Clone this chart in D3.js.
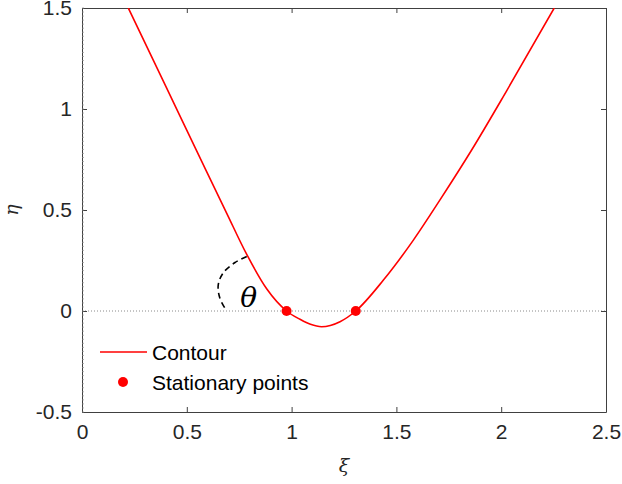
<!DOCTYPE html>
<html>
<head>
<meta charset="utf-8">
<script src="https://cdn.jsdelivr.net/npm/d3@7"></script>
<style>
	body { margin: 0; background: white; }
	svg { display: block; }
	.tick text { font-family: "Liberation Sans", Arial, sans-serif; }
</style>
</head>
<body>
<section></section>
<script>
//contour samples (xi, eta)
var contourXi  = [0.221, 0.400, 0.590, 0.690, 0.786, 0.881, 0.976, 1.040, 1.090, 1.143, 1.231, 1.306, 1.438, 1.581, 1.708, 1.859, 2.026, 2.253];
var contourEta = [1.500, 1.112, 0.700, 0.485, 0.280, 0.110, 0.000, -0.041, -0.066, -0.078, -0.053, 0.000, 0.153, 0.351, 0.550, 0.797, 1.090, 1.500];

//stationary points
var stationaryXi  = [0.976, 1.306];
var stationaryEta = [0, 0];

//dashed theta arc
var arcXi  = [0.786, 0.730, 0.674, 0.650, 0.658, 0.690];
var arcEta = [0.270, 0.240, 0.189, 0.129, 0.063, 0.000];

//ticks
var xTicks = [0, 0.5, 1, 1.5, 2, 2.5];
var yTicks = [-0.5, 0, 0.5, 1, 1.5];
var xTickLabels = ["0", "0.5", "1", "1.5", "2", "2.5"];
var yTickLabels = ["-0.5", "0", "0.5", "1", "1.5"];

var legendLabels = ["Contour", "Stationary points"];

//set size of viewport
var width = 622,
	height = 484;

var plotLeft = 82, plotRight = 606, plotTop = 8, plotBottom = 412;
var axisColor = "#404040";

var svg = d3.select('section')
	.append('svg')
	.attr('width', width)
	.attr('height', height);

var x = d3.scaleLinear().domain([0, 2.5]).range([plotLeft, plotRight]);
var y = d3.scaleLinear().domain([-0.5, 1.5]).range([plotBottom, plotTop]);

//dotted zero line
svg.append("line")
	.attr("x1", x(0)).attr("x2", x(2.5))
	.attr("y1", y(0)).attr("y2", y(0))
	.attr("stroke", "#8a8a8a")
	.attr("stroke-width", 1)
	.attr("stroke-dasharray", "1,2");

//axes (ticks pointing inward)
function styleAxis(g){
	g.select(".domain").attr("stroke", axisColor);
	g.selectAll(".tick line").attr("stroke", axisColor);
	g.selectAll(".tick text")
		.attr("fill", "#262626")
		.attr("font-size", "21px");
}

var xAxis = svg.append("g")
	.attr("transform", "translate(0," + plotBottom + ")")
	.call(d3.axisBottom(x).tickValues(xTicks).tickSizeInner(-5).tickSizeOuter(0).tickPadding(12)
		.tickFormat(function(d, i){ return xTickLabels[i]; }))
	.call(styleAxis);
xAxis.selectAll(".tick text").attr("dy", "0.71em");

svg.append("g")
	.attr("transform", "translate(" + plotLeft + ",0)")
	.call(d3.axisLeft(y).tickValues(yTicks).tickSizeInner(-5).tickSizeOuter(0).tickPadding(10)
		.tickFormat(function(d, i){ return yTickLabels[i]; }))
	.call(styleAxis);

//top and right box with ticks, no labels
svg.append("g")
	.attr("transform", "translate(0," + plotTop + ")")
	.call(d3.axisTop(x).tickValues(xTicks).tickSizeInner(-5).tickSizeOuter(0).tickFormat(""))
	.call(styleAxis);

svg.append("g")
	.attr("transform", "translate(" + plotRight + ",0)")
	.call(d3.axisRight(y).tickValues(yTicks).tickSizeInner(-5).tickSizeOuter(0).tickFormat(""))
	.call(styleAxis);

//minor ticks on left axis
svg.append("g")
	.selectAll("line")
	.data(d3.range(-0.5, 1.5001, 0.02))
	.enter()
	.append("line")
	.attr("x1", plotLeft).attr("x2", plotLeft + 2)
	.attr("y1", function(d){ return y(d); })
	.attr("y2", function(d){ return y(d); })
	.attr("stroke", "#909090")
	.attr("stroke-width", 0.7);

//contour
var contour = contourXi.map(function(d, i){ return [d, contourEta[i]]; });
var line = d3.line()
	.x(function(d){ return x(d[0]); })
	.y(function(d){ return y(d[1]); })
	.curve(d3.curveMonotoneX);

svg.append("clipPath").attr("id", "plotclip")
	.append("rect").attr("x", plotLeft).attr("y", plotTop)
	.attr("width", plotRight - plotLeft).attr("height", plotBottom - plotTop);

svg.append("path")
	.datum(contour)
	.attr("clip-path", "url(#plotclip)")
	.attr("d", line)
	.attr("fill", "none")
	.attr("stroke", "#ff0000")
	.attr("stroke-width", 1.6);

//theta arc
var arc = arcXi.map(function(d, i){ return [d, arcEta[i]]; });
svg.append("path")
	.datum(arc)
	.attr("d", d3.line()
		.x(function(d){ return x(d[0]); })
		.y(function(d){ return y(d[1]); })
		.curve(d3.curveCatmullRom))
	.attr("fill", "none")
	.attr("stroke", "black")
	.attr("stroke-width", 1.6)
	.attr("stroke-dasharray", "6,4");

svg.append("text")
	.attr("x", x(0.795))
	.attr("y", y(0.02))
	.attr("text-anchor", "middle")
	.attr("font-family", "'DejaVu Serif', serif")
	.attr("font-style", "italic")
	.attr("font-size", "28px")
	.text("θ");

//stationary points
svg.append("g")
	.selectAll("circle")
	.data(stationaryXi)
	.enter()
	.append("circle")
	.attr("cx", function(d){ return x(d); })
	.attr("cy", function(d, i){ return y(stationaryEta[i]); })
	.attr("r", 5)
	.attr("fill", "#ff0000");

//legend
var legend = svg.append("g").attr("font-family", "'Liberation Sans', Arial, sans-serif").attr("font-size", "21px").attr("fill", "black");
legend.append("line")
	.attr("x1", 100).attr("x2", 147)
	.attr("y1", 352).attr("y2", 352)
	.attr("stroke", "#ff0000").attr("stroke-width", 1.6);
legend.append("circle")
	.attr("cx", 123).attr("cy", 382).attr("r", 5)
	.attr("fill", "#ff0000");
legend.selectAll("text")
	.data(legendLabels)
	.enter()
	.append("text")
	.attr("x", 152)
	.attr("y", function(d, i){ return 359.5 + i * 30; })
	.text(function(d){ return d; });

//axis labels
svg.append("text")
	.attr("x", x(1.25))
	.attr("y", 472)
	.attr("text-anchor", "middle")
	.attr("font-family", "'DejaVu Serif', serif")
	.attr("font-style", "italic")
	.attr("font-size", "19px")
	.attr("fill", "#262626")
	.text("ξ");

svg.append("text")
	.attr("transform", "translate(18," + y(0.5) + ") rotate(-90)")
	.attr("text-anchor", "middle")
	.attr("font-family", "'DejaVu Serif', serif")
	.attr("font-style", "italic")
	.attr("font-size", "19px")
	.attr("fill", "#262626")
	.text("η");
</script>
</body>
</html>
